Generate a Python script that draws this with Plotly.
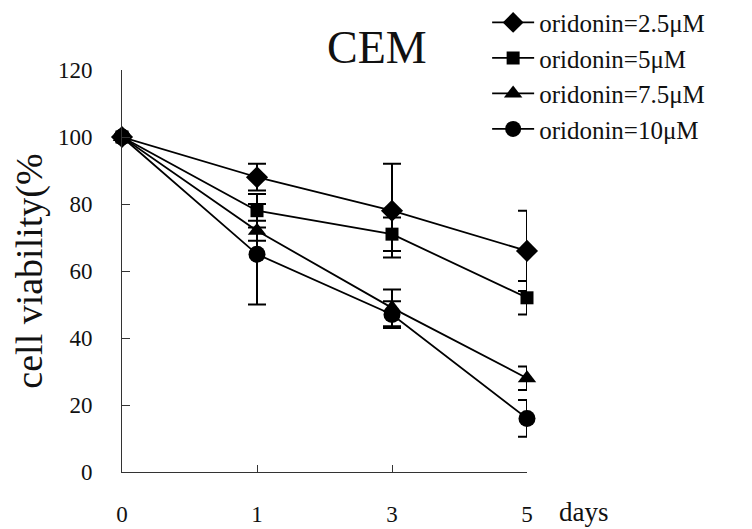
import plotly.graph_objects as go

days = ["0", "1", "3", "5"]
labels = ["oridonin=2.5μM", "oridonin=5μM", "oridonin=7.5μM", "oridonin=10μM"]
v25 = [100, 88, 78, 66]
e25 = [None, 4, 14, 12]
v5 = [100, 78, 71, 52]
e5 = [None, 5, 5, 5]
v75 = [100, 72, 49, 28]
e75 = [None, 3, 5.5, 3.5]
v10 = [100, 65, 47, 16]
e10 = [None, 15, 4, 5.5]
yticks = [0, 20, 40, 60, 80, 100, 120]

series = [(v25, e25, "diamond", 17), (v5, e5, "square", 13),
          (v75, e75, "triangle-up", 16), (v10, e10, "circle", 17)]

FONT = "Liberation Serif, Times New Roman, serif"
fig = go.Figure()
for (vals, errs, sym, sz), name in zip(series, labels):
    fig.add_trace(go.Scatter(
        x=days, y=vals, name=name, mode="lines+markers",
        line=dict(color="black", width=1.8),
        marker=dict(symbol=sym, size=sz, color="black"),
        error_y=dict(type="data", array=errs, visible=True, color="black",
                     thickness=2, width=9),
        cliponaxis=False,
    ))

fig.update_layout(
    width=744, height=521,
    margin=dict(l=114, r=225, t=62, b=57, autoexpand=False),
    paper_bgcolor="white", plot_bgcolor="white",
    font=dict(family=FONT, color="#111", size=22),
    showlegend=True,
    legend=dict(xref="container", yref="paper", x=0.644, y=1.175,
                xanchor="left", yanchor="top", font=dict(size=25, family=FONT),
                bgcolor="rgba(0,0,0,0)", tracegroupgap=0, itemsizing="trace",
                itemwidth=42),
    annotations=[
        dict(text="CEM", xref="paper", yref="paper", x=0.63, y=1.056,
             showarrow=False, font=dict(size=46, family=FONT, color="#111"),
             xanchor="center", yanchor="middle"),
        dict(text="days", xref="paper", yref="paper", x=1.074, y=-0.1,
             showarrow=False, font=dict(size=27, family=FONT, color="#111"),
             xanchor="left", yanchor="middle"),
    ],
)
fig.update_xaxes(type="category", range=[0, 3], showline=True, linecolor="#333",
                 linewidth=1, ticks="inside", ticklen=7, tickcolor="#333",
                 showgrid=False, zeroline=False, ticklabelstandoff=21,
                 tickfont=dict(size=23, family=FONT))
fig.update_yaxes(range=[0, 120], tickvals=yticks, showline=True, linecolor="#333",
                 linewidth=1, ticks="inside", ticklen=8, tickcolor="#333",
                 showgrid=False, zeroline=False, ticklabelstandoff=24,
                 tickfont=dict(size=23, family=FONT),
                 title=dict(text="cell viability(%", font=dict(size=38, family=FONT),
                            standoff=4))

fig.write_html("out.html")
